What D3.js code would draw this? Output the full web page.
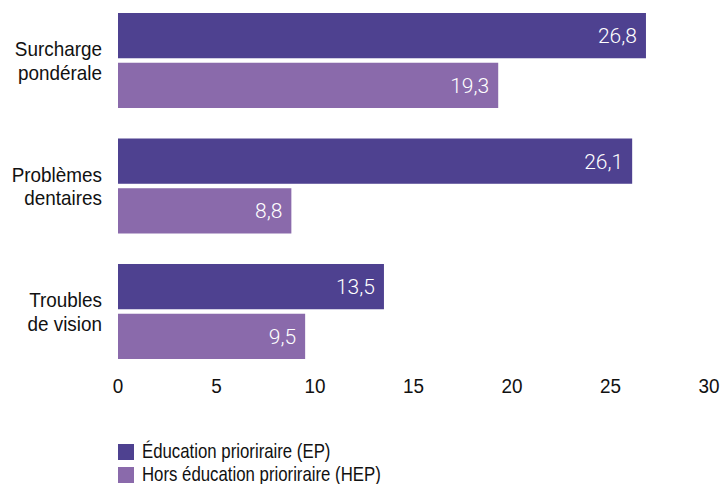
<!DOCTYPE html>
<html lang="fr">
<head>
<meta charset="utf-8">
<script src="https://cdn.jsdelivr.net/npm/d3@7"></script>
<style>
  html, body { margin: 0; padding: 0; background: #fff; }
  svg { display: block; }
</style>
</head>
<body>
<svg id="chart" width="725" height="484"></svg>
<script>
// Health indicators by schooling zone (%)
const categories = [
  ["Surcharge", "pondérale"],
  ["Problèmes", "dentaires"],
  ["Troubles", "de vision"]
];
const seriesNames = ["Éducation prioriraire (EP)", "Hors éducation prioriraire (HEP)"];
const epValues = [26.8, 26.1, 13.5];
const hepValues = [19.3, 8.8, 9.5];
const tickValues = [0, 5, 10, 15, 20, 25, 30];

const colors = ["#4e4190", "#8a6aab"];
const textFont = "'Liberation Sans', Arial, sans-serif";
const valFont = "Roboto, 'Liberation Sans', sans-serif";

const svg = d3.select("#chart");
const series = [epValues, hepValues];
const keys = categories.map(c => c.join(" "));

const x = d3.scaleLinear().domain([0, 30]).range([118, 709]);
const y0 = d3.scaleBand().domain(keys).range([13, 359]).paddingInner(0.243).paddingOuter(0);
const y1 = d3.scaleBand().domain([0, 1]).range([0, y0.bandwidth()]).paddingInner(0.09);

const fmt = v => d3.format(".1f")(v).replace(".", ",");

// Bars with value labels
const groups = svg.append("g").selectAll("g")
  .data(keys)
  .join("g")
  .attr("transform", k => `translate(0,${y0(k)})`);

groups.each(function(k, i) {
  const g = d3.select(this);
  series.forEach((vals, s) => {
    const v = vals[i];
    g.append("rect")
      .attr("x", x(0))
      .attr("y", y1(s))
      .attr("width", x(v) - x(0))
      .attr("height", y1.bandwidth())
      .attr("fill", colors[s]);
    g.append("text")
      .attr("x", x(v) - 9)
      .attr("y", y1(s) + y1.bandwidth() / 2)
      .attr("dy", "0.36em")
      .attr("text-anchor", "end")
      .attr("fill", "#fff")
      .style("font-family", valFont)
      .style("font-weight", 300)
      .style("font-size", "21px")
      .text(fmt(v));
  });
});

// Category labels (two lines, right aligned, condensed)
svg.append("g").selectAll("text")
  .data(categories)
  .join("text")
  .attr("text-anchor", "end")
  .attr("fill", "#111")
  .attr("transform", (d, i) => `translate(102,${y0(keys[i]) + y0.bandwidth() / 2}) scale(0.9,1)`)
  .style("font-family", textFont)
  .style("font-size", "21px")
  .each(function(lines) {
    d3.select(this).selectAll("tspan")
      .data(lines)
      .join("tspan")
      .attr("x", 0)
      .attr("y", (d, j) => -4.5 + j * 24)
      .text(d => d);
  });

// X axis labels
const axis = d3.axisBottom(x).tickValues(tickValues).tickSize(0).tickPadding(0).tickFormat(d3.format("d"));
const ax = svg.append("g").attr("transform", "translate(0,377)").call(axis);
ax.select(".domain").remove();
ax.selectAll("text")
  .attr("dy", "0.74em")
  .attr("fill", "#111")
  .attr("transform", "scale(0.9,1)")
  .style("font-family", textFont)
  .style("font-size", "21px");
ax.selectAll(".tick").attr("transform", d => `translate(${x(d)},0)`);

// Legend
const legend = svg.append("g").selectAll("g")
  .data(seriesNames)
  .join("g")
  .attr("transform", (d, i) => `translate(118,${444 + i * 23})`);
legend.append("rect")
  .attr("width", 16).attr("height", 16)
  .attr("fill", (d, i) => colors[i]);
legend.append("text")
  .attr("transform", "translate(24,14) scale(0.84,1)")
  .attr("fill", "#111")
  .style("font-family", textFont)
  .style("font-size", "20px")
  .text(d => d);
</script>
</body>
</html>
